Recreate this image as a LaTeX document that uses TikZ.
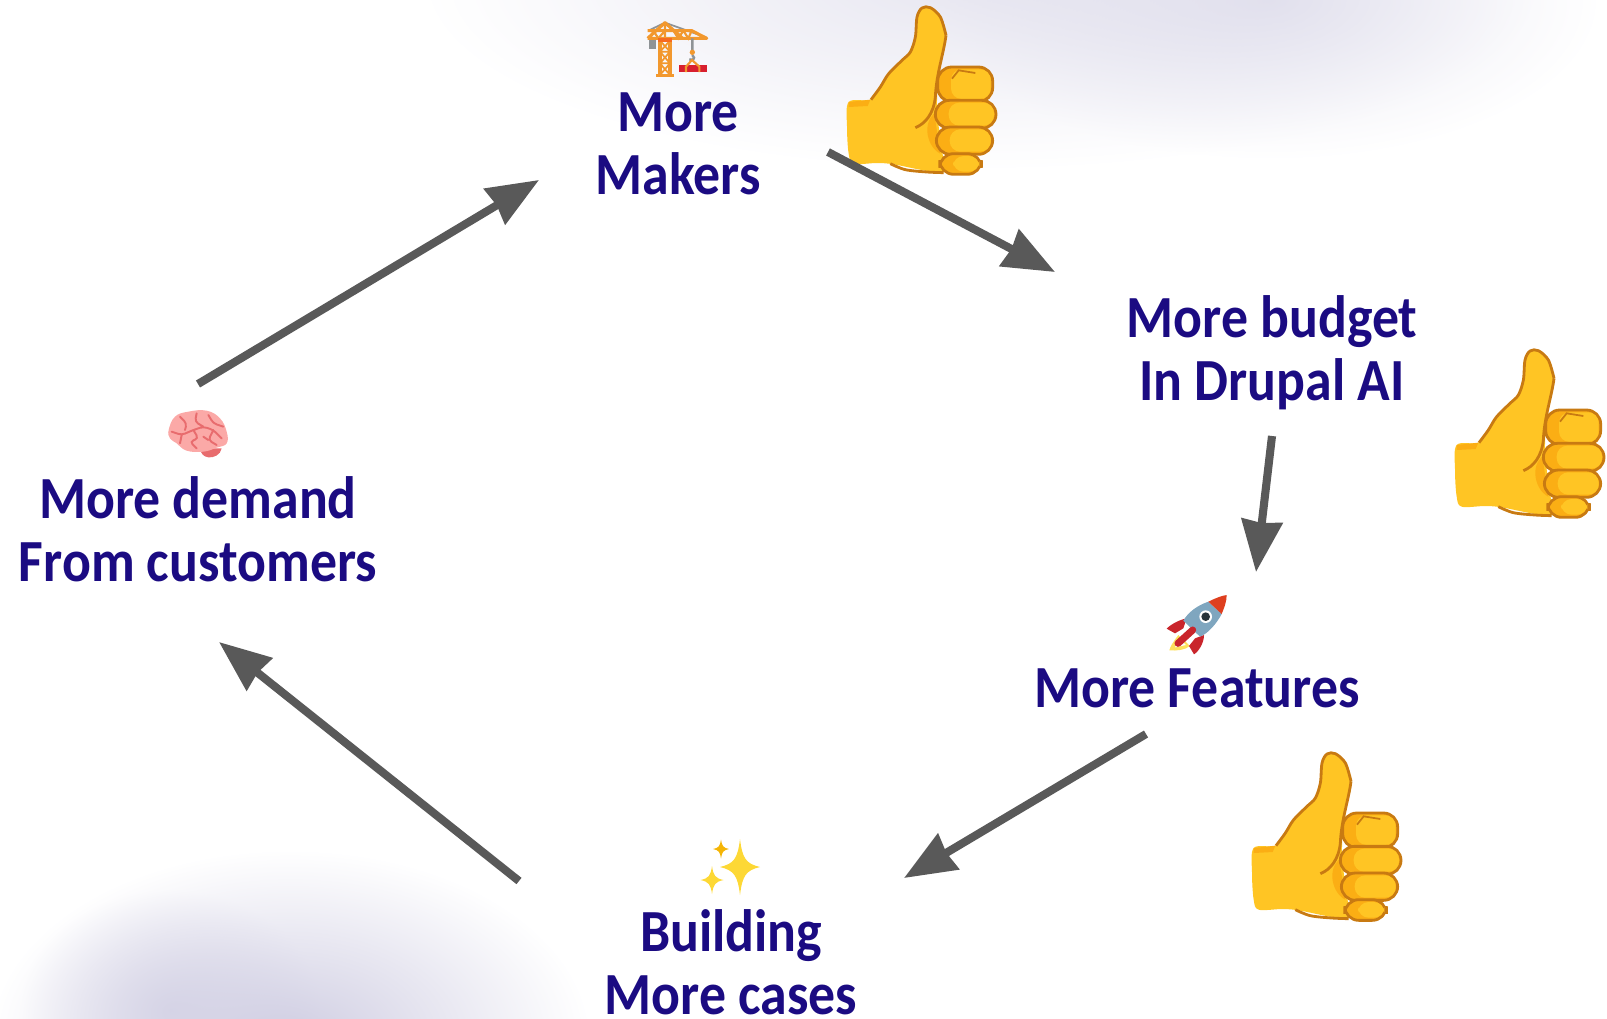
\documentclass[tikz,border=0pt]{standalone}
\usepackage{fontspec}
\setmainfont[FakeStretch=0.9]{Carlito}
\usepackage{tikz}
\usetikzlibrary{calc,arrows.meta,fadings}
\definecolor{loopink}{HTML}{1B0B82}
\definecolor{loopgrey}{HTML}{595959}
\definecolor{haze}{HTML}{CFCDE2}
\definecolor{thumbfill}{HTML}{FFC524}
\definecolor{thumbdark}{HTML}{FBAE14}
\definecolor{thumbline}{HTML}{C87A12}
\definecolor{craneorange}{HTML}{F2982E}
\definecolor{cranegrey}{HTML}{8F9396}
\definecolor{loadred}{HTML}{D81F2E}
\definecolor{brainpink}{HTML}{FBA9A7}
\definecolor{brainline}{HTML}{E86C6E}
\definecolor{rocketred}{HTML}{C9252C}
\definecolor{rocketnose}{HTML}{DE3F1F}
\definecolor{rocketblue}{HTML}{7FA6BF}
\definecolor{sparkyellow}{HTML}{FDD835}
\definecolor{sparkdark}{HTML}{F5B505}
\tikzfading[name=softblob,inner color=transparent!0,outer color=transparent!100]
\tikzset{
    stagetext/.style={text=loopink,align=center,inner sep=0,font=\fontsize{17}{18}\selectfont\bfseries},
    looparrow/.style={draw=loopgrey,line width=2.3pt,-{Stealth[length=14.6pt,width=11.5pt,inset=0.6pt]}},
    thumbup/.pic={
        \fill[thumbfill]
            plot[smooth cycle,tension=0.55] coordinates {(5,285) (70,278) (100,240) (125,200) (165,160) (190,135) (205,90) (210,30) (225,3) (250,2) (280,30) (297,85) (290,130) (275,180) (270,300) (280,400) (290,495) (230,490) (140,472) (90,468) (20,470) (5,440) (0,360)};
        \fill[thumbdark] (5,285) -- (70,278) -- (62,297) -- (5,300) -- cycle;
        \fill[thumbdark] (262,320) .. controls (225,350) and (240,420) .. (280,440) -- cycle;
        \draw[thumbline,line width=0.8pt] plot[smooth,tension=0.55] coordinates {(72,278) (100,240) (125,200) (165,160) (190,135) (205,90) (210,30) (225,3) (250,2) (280,30) (297,85)};
        \draw[thumbline,line width=0.8pt] plot[smooth,tension=0.55] coordinates {(130,470) (175,488) (240,495) (290,497)};
        \foreach \xa/\ya/\xb/\yb in {272/180/437/284,265/280/447/364,268/360/437/442,278/440/403/502} {
            \draw[fill=thumbdark,draw=thumbline,line width=0.8pt,rounded corners=4pt] (\xa,\ya) rectangle (\xb,\yb);
            \fill[thumbfill,rounded corners=3pt] (\xa+40,\ya+7) rectangle (\xb-6,\yb-8);
        }
        \draw[thumbline,line width=0.8pt] (297,85) .. controls (290,140) and (268,200) .. (265,270) .. controls (260,320) and (235,350) .. (205,362);
        \draw[thumbline,line width=0.5pt] (315,215) -- (335,190) -- (385,198);
    },
    crane/.pic={
        \draw[cranegrey,line width=0.5pt] (265,92) -- (315,68) -- (438,112);
        \fill[cranegrey] (268,118) rectangle (288,146);
        \draw[craneorange,line width=0.9pt,line join=round] (263,115) -- (315,68) -- (368,115) (263,115) -- (440,115) -- (395,92) -- (315,92) -- (263,92);
        \draw[craneorange,line width=0.6pt] (315,68) -- (315,115) (340,92) -- (355,115) -- (370,92) -- (385,115) -- (395,92) (280,92) -- (295,115) -- (315,92);
        \draw[craneorange,line width=1pt] (300,115) -- (300,228) (330,115) -- (330,228);
        \draw[craneorange,line width=0.5pt] (300,122) -- (330,155) -- (300,190) -- (330,225) (330,122) -- (300,155) -- (330,190) -- (300,225) (300,155) -- (330,155) (300,190) -- (330,190);
        \fill[craneorange] (287,222) rectangle (343,231);
        \fill[craneorange!70!red] (295,115) rectangle (335,127);
        \draw[cranegrey,line width=0.7pt] (397,115) -- (397,150) (397,165) .. controls (410,178) and (395,182) .. (388,178);
        \fill[craneorange] (397,157) circle (8);
        \fill[loadred] (358,195) rectangle (442,216);
        \draw[craneorange,line width=0.6pt] (378,216) -- (378,200) -- (396,180) -- (418,200) -- (418,216);
    },
    brain/.pic={
        \fill[brainline] (600,205) -- (665,205) .. controls (662,225) and (640,234) .. (625,232) .. controls (610,230) and (602,220) .. (600,205);
        \path[fill=brainpink]
            plot[smooth cycle,tension=0.7] coordinates {(506,150) (525,110) (565,95) (620,92) (660,115) (680,155) (680,190) (650,203) (610,215) (560,212) (530,190) (510,175)};
        \draw[brainline,line width=0.55pt,line cap=round,rounded corners=1pt]
            (515,155) -- (545,165) -- (580,150) -- (610,140) -- (640,150) -- (665,175)
            (540,110) -- (560,130) -- (555,150) (590,100) -- (585,125) -- (610,140) (625,105) -- (640,130) -- (670,140)
            (545,165) -- (540,190) (580,150) -- (595,175) -- (570,185) -- (590,205) (640,150) -- (625,180) -- (650,195) (610,170) -- (625,180);
    },
    rocket/.pic={
        \fill[sparkyellow!80!white] (175,195) .. controls (160,215) and (150,230) .. (148,241) .. controls (170,243) and (195,240) .. (210,228) -- cycle;
        \fill[white] (178,207) -- (165,232) -- (198,225) -- cycle;
        \fill[rocketred] (200,145) .. controls (175,150) and (150,165) .. (140,176) -- (165,190) -- (190,175) -- cycle;
        \fill[rocketred] (252,195) .. controls (252,220) and (235,245) .. (222,253) -- (207,228) -- (225,205) -- cycle;
        \fill[rocketblue] (265,95) -- (305,132) .. controls (290,160) and (265,190) .. (240,200) -- (190,152) .. controls (205,125) and (235,105) .. (265,95) -- cycle;
        \fill[rocketnose] (265,95) .. controls (285,85) and (305,77) .. (320,75) .. controls (320,95) and (312,115) .. (305,132) -- cycle;
        \fill[white] (257,140) circle (19);
        \fill[black!70!rocketblue] (257,140) circle (13);
        \draw[rocketred,line width=2pt,line cap=round] (218,180) -- (174,220);
    },
    sparkle/.pic={
        \fill[#1] (0,-1) .. controls (0.12,-0.3) and (0.3,-0.12) .. (1,0) .. controls (0.3,0.12) and (0.12,0.3) .. (0,1) .. controls (-0.12,0.3) and (-0.3,0.12) .. (-1,0) .. controls (-0.3,-0.12) and (-0.12,-0.3) .. (0,-1) -- cycle;
    }
}

\begin{document}
\begin{tikzpicture}[x=0.01cm,y=-0.01cm]
    \useasboundingbox (0,0) rectangle (1607,1018);
    \begin{scope}
        \clip (0,0) rectangle (1607,1018);
        \fill[haze,path fading=softblob,opacity=0.5] (980,-20) ellipse (560 and 190);
        \fill[haze,path fading=softblob,opacity=0.5] (1270,0) ellipse (330 and 160);
        \fill[haze,path fading=softblob] (290,1040) ellipse (300 and 190);
        \fill[haze,path fading=softblob,opacity=0.7] (170,1010) ellipse (150 and 120);
    \end{scope}

    \node[stagetext] (makers) at (678,144) {More\\Makers};
    \node[stagetext] (budget) at (1272,353) {More budget\\In Drupal AI};
    \node[stagetext] (features) at (1197,688) {More Features};
    \node[stagetext] (cases) at (731,962) {Building\\More cases};
    \node[stagetext] (demand) at (198,529) {More demand\\From customers};

    \pic[scale=1/3] at (560,0) {crane};
    \pic[scale=1/3] at (0,380) {brain};
    \pic[scale=1/3] at (1120,570) {rocket};
    \pic[xscale=20,yscale=-28] at (740,867) {sparkle=sparkyellow};
    \pic[xscale=11.5,yscale=-14] at (712,880) {sparkle=sparkyellow};
    \pic[xscale=8,yscale=-9.5] at (721,849) {sparkle=sparkdark};
    \pic[scale=1/3] at (847,7) {thumbup};
    \pic[scale=1/3] at (1455,350) {thumbup};
    \pic[scale=1/3] at (1252,753) {thumbup};

    \coordinate (makers out) at ($(makers.center)+(150,8)$);
    \coordinate (budget in) at ($(budget.center)+(-217,-81)$);
    \coordinate (budget out) at ($(budget.center)+(0,83)$);
    \coordinate (features in) at ($(features.center)+(59,-116)$);
    \coordinate (features out) at ($(features.center)+(-51,46)$);
    \coordinate (cases in) at ($(cases.center)+(173,-84)$);
    \coordinate (cases out) at ($(cases.center)+(-212,-81)$);
    \coordinate (demand in) at ($(demand.center)+(21,113)$);
    \coordinate (demand out) at ($(demand.center)+(0,-145)$);
    \coordinate (makers in) at ($(makers.center)+(-139,36)$);

    \draw[looparrow] (demand out) -- (makers in);
    \draw[looparrow] (makers out) -- (budget in);
    \draw[looparrow] (budget out) -- (features in);
    \draw[looparrow] (features out) -- (cases in);
    \draw[looparrow] (cases out) -- (demand in);
\end{tikzpicture}
\end{document}
